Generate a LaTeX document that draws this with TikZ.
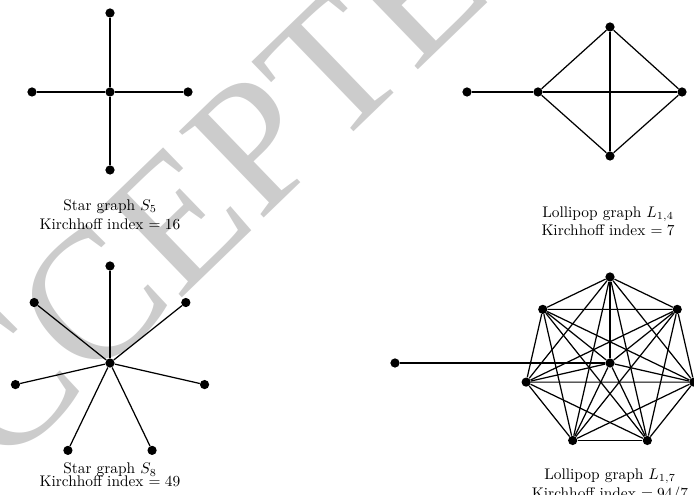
\documentclass[tikz,border=0pt]{standalone}
\usepackage{amsmath}
\usepackage{fontspec}
\newfontfamily\wmfont{Liberation Serif}
\usetikzlibrary{calc}

\begin{document}
\begin{tikzpicture}[
  x=0.65pt, y=0.65pt,
  vtx/.style={circle, fill=black, inner sep=0pt, minimum size=6pt},
  ln/.style={thick},
  captxt/.style={align=center},
  wmark/.style={text=black!20, font=\wmfont\fontsize{120}{120}\selectfont, rotate=44, anchor=base west, inner sep=0pt},
]
\useasboundingbox (0,0) rectangle (694,495);

% watermark
\begin{scope}
\clip (0,0) rectangle (694,495);
\node[wmark] (wm) at (-95,-70) {ACCEPTED};
\end{scope}

% star S5
\node[vtx] (s5c) at (110,403) {};
\node[vtx] (s5t) at (110,482) {};
\node[vtx] (s5b) at (110,325) {};
\node[vtx] (s5l) at (32,403) {};
\node[vtx] (s5r) at (188,403) {};
\draw[ln] (s5c)--(s5t); \draw[ln] (s5c)--(s5b);
\draw[ln] (s5c)--(s5l); \draw[ln] (s5c)--(s5r);
\node[captxt] (s5cap) at (110,280.5) {Star graph $S_5$\\Kirchhoff index $= 16$};

% lollipop L_{1,4}
\node[vtx] (l4p) at (467,403) {};
\node[vtx] (l4h) at (538,403) {};
\node[vtx] (l4t) at (610,468) {};
\node[vtx] (l4r) at (682,403) {};
\node[vtx] (l4b) at (610,339) {};
\draw[ln] (l4p)--(l4h);
\draw[ln] (l4h)--(l4t); \draw[ln] (l4h)--(l4r); \draw[ln] (l4h)--(l4b);
\draw[ln] (l4t)--(l4r); \draw[ln] (l4t)--(l4b); \draw[ln] (l4r)--(l4b);
\node[captxt] (l4cap) at (608,274) {Lollipop graph $L_{1,4}$\\Kirchhoff index $= 7$};

% star S8
\node[vtx] (s8c) at (110,132) {};
\foreach \k in {0,...,6} {
  \node[vtx] (s8v\k) at ($(s8c)+(90+\k*360/7:97)$) {};
  \draw[ln] (s8c)--(s8v\k);
}
\node[captxt] (s8cap) at (110,20) {Star graph $S_8$\\[-3.5pt]Kirchhoff index $= 49$};

% lollipop L_{1,7}
\node[vtx] (kc) at (610,132) {};
\node[vtx] (kp) at (395,132) {};
\foreach \k in {0,...,6} {
  \node[vtx] (kv\k) at ($(kc)+(90+\k*360/7:86)$) {};
  \draw[ln] (kc)--(kv\k);
}
\foreach \i in {0,...,5} {
  \pgfmathtruncatemacro\jst{\i+1}
  \foreach \j in {\jst,...,6} { \draw[ln] (kv\i)--(kv\j); }
}
\draw[ln] (kp)--(kc);
\node[captxt] (kcap) at (610,9.5) {Lollipop graph $L_{1,7}$\\Kirchhoff index $= 94/7$};
\end{tikzpicture}
\end{document}
